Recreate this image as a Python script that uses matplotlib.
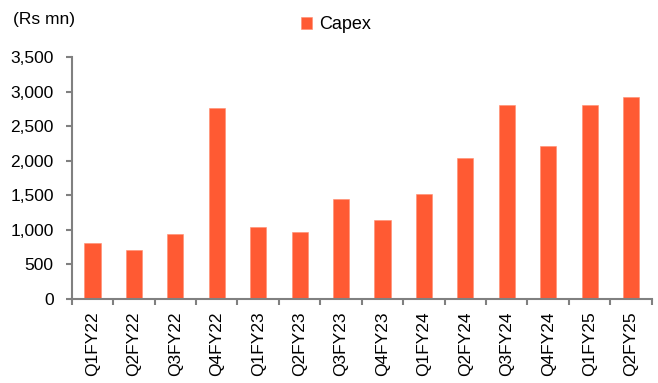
import matplotlib
matplotlib.use('Agg')
import matplotlib.pyplot as plt
import numpy as np
from matplotlib.ticker import FuncFormatter, FixedLocator

quarters = ['Q1FY22', 'Q2FY22', 'Q3FY22', 'Q4FY22',
            'Q1FY23', 'Q2FY23', 'Q3FY23', 'Q4FY23',
            'Q1FY24', 'Q2FY24', 'Q3FY24', 'Q4FY24',
            'Q1FY25', 'Q2FY25']
capex = [803, 706, 934, 2761, 1044, 967, 1441, 1137,
         1518, 2036, 2804, 2214, 2813, 2929]

plt.rcParams['font.family'] = ['Liberation Sans', 'DejaVu Sans']
bar_c = '#FF5A33'
axis_c = '#808080'
fs = 12.5

fig = plt.figure(figsize=(6.58, 3.83), dpi=100)
ax = fig.add_axes([0.109, 0.22, 0.8815, 0.63])

x = np.arange(len(quarters))
ax.bar(x, capex, width=0.39, color=bar_c, edgecolor='#FF8C70',
       linewidth=0.4, label='Capex', zorder=2)

ax.set_xlim(-0.5, len(quarters) - 0.5)
ax.set_ylim(0, 3500)

# spines
for s in ['top', 'right']:
    ax.spines[s].set_visible(False)
for s in ['left', 'bottom']:
    ax.spines[s].set_color(axis_c)
    ax.spines[s].set_linewidth(1.5)

# y axis
ax.set_yticks(np.arange(0, 3501, 500))
ax.yaxis.set_major_formatter(FuncFormatter(lambda v, p: '{:,.0f}'.format(v)))
ax.tick_params(axis='y', pad=9)

# x axis: ticks on category boundaries, labels centred
ax.xaxis.set_major_locator(FixedLocator(np.arange(-0.5, len(quarters), 1.0)))
ax.xaxis.set_major_formatter(FuncFormatter(lambda v, p: ''))
ax.set_xticks(x, minor=True)
ax.set_xticklabels(quarters, minor=True, rotation=90)
ax.tick_params(axis='x', which='minor', length=0, pad=9)

ax.tick_params(which='major', direction='out', length=4, width=1.5,
               color=axis_c)
ax.tick_params(axis='both', which='both', labelsize=fs, labelcolor='black')

fig.text(0.02, 0.948, '(Rs mn)', fontsize=fs, ha='left', va='center')

leg = ax.legend(loc='center', bbox_to_anchor=(0.455, 1.135), frameon=False,
                fontsize=13, handlelength=0.6, handleheight=0.6,
                handletextpad=0.4)

fig.savefig('out.png', dpi=100)
